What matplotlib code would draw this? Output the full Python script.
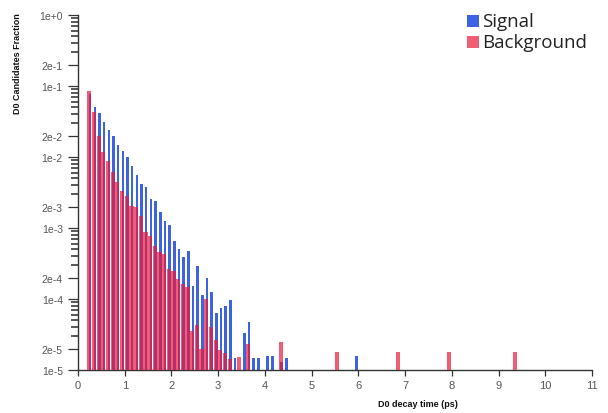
import matplotlib
matplotlib.use("Agg")
import matplotlib.pyplot as plt
from matplotlib.ticker import NullFormatter, FixedLocator
from matplotlib.patches import Rectangle

# ---- data (fraction of candidates per 0.1 ps bin, bin lower edge in ps) ----
bin_start = [0.2, 0.3, 0.4, 0.5, 0.6, 0.7, 0.8, 0.9, 1.0, 1.1,
             1.2, 1.3, 1.4, 1.5, 1.6, 1.7, 1.8, 1.9, 2.0, 2.1,
             2.2, 2.3, 2.4, 2.5, 2.6, 2.7, 2.8, 2.9, 3.0, 3.1,
             3.2, 3.3, 3.4, 3.5, 3.6, 3.7, 3.8, 3.9, 4.0, 4.1,
             4.2, 4.3, 4.4]
signal = [0.0771, 0.0514, 0.0410, 0.0313, 0.0240, 0.0200, 0.0146, 0.0123, 0.0101, 0.00747,
          0.00552, 0.00420, 0.00374, 0.00253, 0.00242, 0.00167, 0.00125, 0.00112, 0.000652, 0.000498,
          0.000388, 0.000467, 0.000151, 0.000292, 0.000113, 0.000198, 0.000127, 6.31e-5, 7.38e-5, 7.96e-5,
          9.75e-5, 1.48e-5, 0, 3.29e-5, 4.70e-5, 1.46e-5, 1.46e-5, 0, 1.56e-5, 1.59e-5,
          0, 1.3e-5, 1.49e-5]
background = [0.0859, 0.0430, 0.0200, 0.0118, 0.00887, 0.00615, 0.00445, 0.00335, 0.00285, 0.00206,
              0.00198, 0.00149, 0.000879, 0.000780, 0.000564, 0.000455, 0.000430, 0.000265, 0.000251, 0.000191,
              0.000163, 0.000148, 3.54e-5, 4.31e-5, 1.98e-5, 1.0e-4, 4.03e-5, 2.65e-5, 1.91e-5, 1.73e-5,
              1.43e-5, 0, 1.52e-5, 0, 2.32e-5, 0, 0, 0, 0, 0,
              0, 2.45e-5, 0]
signal_tail_start = [5.9]
signal_tail = [1.57e-5]
background_tail_start = [5.5, 6.8, 7.9, 9.3]
background_tail = [1.79e-5, 1.79e-5, 1.79e-5, 1.79e-5]

x_ticks = [0, 1, 2, 3, 4, 5, 6, 7, 8, 9, 10, 11]
y_major = [1e0, 2e-1, 1e-1, 2e-2, 1e-2, 2e-3, 1e-3, 2e-4, 1e-4, 2e-5, 1e-5]
y_major_labels = ["1e+0", "2e-1", "1e-1", "2e-2", "1e-2", "2e-3", "1e-3", "2e-4", "1e-4", "2e-5", "1e-5"]
y_minor = [3e-1, 4e-1, 5e-1, 6e-1, 7e-1, 8e-1, 9e-1,
           3e-2, 4e-2, 5e-2, 6e-2, 7e-2, 8e-2, 9e-2,
           3e-3, 4e-3, 5e-3, 6e-3, 7e-3, 8e-3, 9e-3,
           3e-4, 4e-4, 5e-4, 6e-4, 7e-4, 8e-4, 9e-4,
           3e-5, 4e-5, 5e-5, 6e-5, 7e-5, 8e-5, 9e-5]

BLUE = "#3d62e2"
RED = "#ea1a3c"
RED_ALPHA = 0.7

W, H = 608, 414
fig = plt.figure(figsize=(W / 100, H / 100), dpi=100)
ax = fig.add_axes([78 / W, 1 - 371 / H, (592 - 78) / W, (371 - 16) / H])
ax.set_yscale("log")

sx = list(bin_start) + signal_tail_start
sy = list(signal) + signal_tail
bx = list(bin_start) + background_tail_start
by = list(background) + background_tail

ax.bar([s + 0.033 for s in sx], sy, width=0.054, align="edge",
       color=BLUE, linewidth=0, zorder=2)
ax.bar(bx, by, width=0.088, align="edge",
       color=RED, alpha=RED_ALPHA, linewidth=0, zorder=3)

ax.set_xlim(0, 11)
ax.set_ylim(1e-5, 1e0)

ax.xaxis.set_major_locator(FixedLocator(x_ticks))
ax.set_xticklabels([str(t) for t in x_ticks])
ax.xaxis.set_minor_locator(FixedLocator([]))
ax.yaxis.set_major_locator(FixedLocator(y_major))
ax.set_yticklabels(y_major_labels)
ax.yaxis.set_minor_locator(FixedLocator(y_minor))
ax.yaxis.set_minor_formatter(NullFormatter())

for side in ("top", "right"):
    ax.spines[side].set_visible(False)
for side in ("left", "bottom"):
    ax.spines[side].set_color("#333333")
    ax.spines[side].set_linewidth(1.0)

ax.tick_params(axis="x", which="major", length=4.5, width=0.9, color="#333333",
               labelsize=8, labelcolor="#555555", pad=2.5)
ax.tick_params(axis="y", which="major", length=7, width=0.9, color="#333333",
               labelsize=7.5, labelcolor="#555555", pad=4)
ax.tick_params(axis="y", which="minor", length=5, width=1.1, color="#2a2a2a",
               left=True, direction="out")

for lab in ax.get_xticklabels() + ax.get_yticklabels():
    lab.set_family("Liberation Sans")

fig.text(18 / W, 1 - 13 / H, "D0 Candidates Fraction", rotation=90,
         ha="center", va="top", fontsize=6.5, fontweight="bold",
         family="Liberation Sans", color="#111111")
fig.text(418 / W, 1 - 405 / H, "D0 decay time (ps)", ha="center", va="center",
         fontsize=6.5, fontweight="bold", family="Liberation Sans", color="#111111")

# legend
for (y0, label, col, a) in [(16, "Signal", BLUE, 1.0), (37, "Background", RED, RED_ALPHA)]:
    fig.patches.append(Rectangle((467 / W, 1 - (y0 + 12) / H), 12 / W, 12 / H,
                                 transform=fig.transFigure, facecolor=col, alpha=a,
                                 edgecolor="none"))
    fig.text(482 / W, 1 - (y0 + 6) / H, label, ha="left", va="center",
             fontsize=13.5, family="Open Sans", color="#222222")

fig.savefig("out.png", dpi=100)
